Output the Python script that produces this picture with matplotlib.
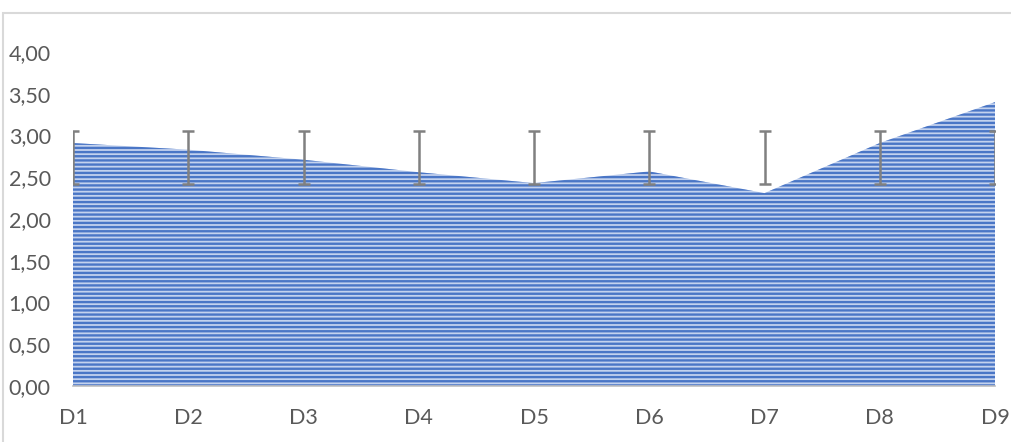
import matplotlib.pyplot as plt
from matplotlib.patches import Rectangle
from matplotlib.ticker import FuncFormatter

categories = ['D1', 'D2', 'D3', 'D4', 'D5', 'D6', 'D7', 'D8', 'D9']
values = [2.91, 2.83, 2.71, 2.56, 2.43, 2.57, 2.31, 2.91, 3.40]
err_center = [2.74] * 9
err_size = [0.315] * 9
y_ticks = [0, 0.5, 1.0, 1.5, 2.0, 2.5, 3.0, 3.5, 4.0]

plt.rcParams['font.family'] = ['Lato', 'DejaVu Sans']
plt.rcParams['hatch.linewidth'] = 1.7

fig = plt.figure(figsize=(10.11, 4.42), dpi=100)
ax = fig.add_axes([73 / 1011, 1 - 386 / 442, (995 - 73) / 1011, (386 - 52) / 442])

x = list(range(len(categories)))
ax.fill_between(x, 0, values, facecolor='#C3D2EE', edgecolor='#4A76C6',
                hatch='----', linewidth=0, zorder=1)
ax.errorbar(x, err_center, yerr=err_size, fmt='none', ecolor='#808080',
            elinewidth=1.8, capsize=4, capthick=1.8, zorder=3)

ax.set_xlim(0, len(categories) - 1)
ax.set_ylim(0, 4.0)
ax.set_xticks(x)
ax.set_xticklabels(categories)
ax.set_yticks(y_ticks)
ax.yaxis.set_major_formatter(FuncFormatter(lambda v, p: f'{v:.2f}'.replace('.', ',')))
ax.tick_params(length=0, labelsize=15.5, labelcolor='#595959')
ax.tick_params(axis='y', pad=16)
ax.tick_params(axis='x', pad=16)

for s in ['top', 'right', 'left']:
    ax.spines[s].set_visible(False)
ax.spines['bottom'].set_color('#BFBFBF')
ax.spines['bottom'].set_linewidth(1.2)

# chart frame (cropped on the right and bottom)
fig.add_artist(Rectangle((2.5 / 1011, -0.2), 1.2, 0.2 + (1 - 13 / 442),
                         transform=fig.transFigure, fill=False,
                         edgecolor='#D9D9D9', linewidth=1.5, clip_on=False))

fig.savefig('out.png', dpi=100)
